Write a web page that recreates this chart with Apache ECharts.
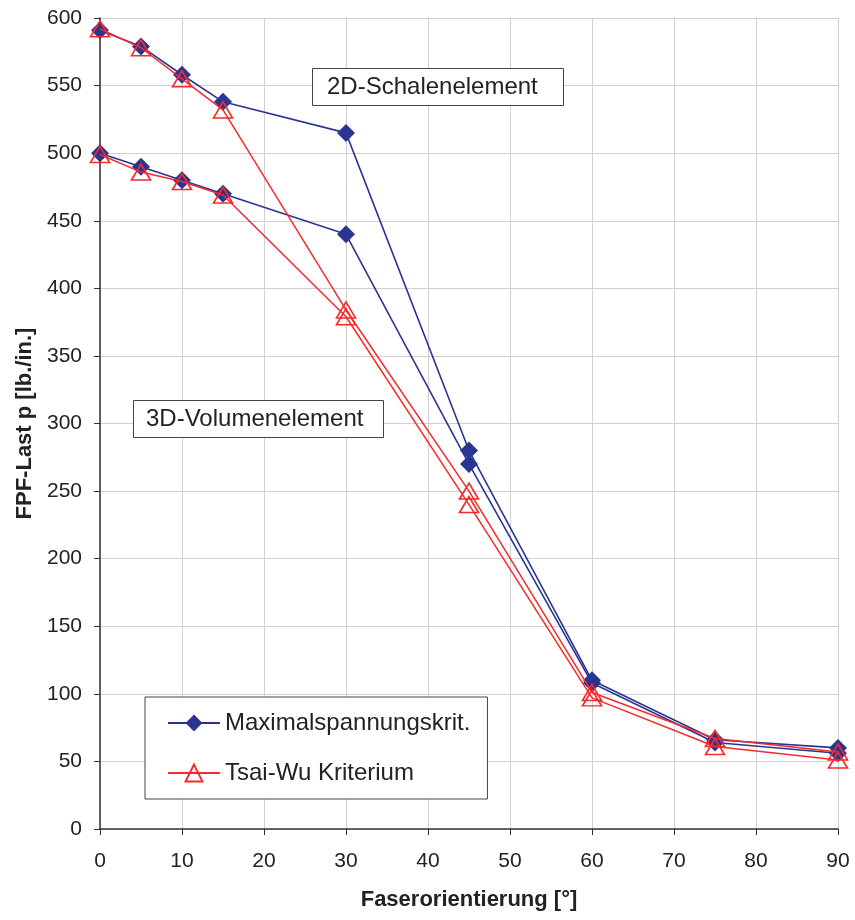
<!DOCTYPE html>
<html><head><meta charset="utf-8">
<script src="https://cdn.jsdelivr.net/npm/echarts@6/dist/echarts.min.js"></script>
<style>html,body{margin:0;padding:0;background:#fff}#c{width:855px;height:920px}</style>
</head><body><div id="c"></div>
<script>
const angles = [0, 5, 10, 15, 30, 45, 60, 75, 90];
const max2D = [591, 579, 558, 538, 515, 280, 110, 66, 60];
const tsai2D = [592, 578, 555, 532, 384, 250, 101, 67, 57];
const max3D = [500, 490, 480, 470, 440, 270, 108, 64, 56];
const tsai3D = [499, 486, 479, 469, 379, 240, 97, 61, 51];
const xTicks = [0, 10, 20, 30, 40, 50, 60, 70, 80, 90];
const nameMax = 'Maximalspannungskrit.';
const nameTsai = 'Tsai-Wu Kriterium';
const label2D = '2D-Schalenelement';
const label3D = '3D-Volumenelement';
const blue = '#2a3592';
const red = '#f52a2a';
const font = 'Liberation Sans, Arial, sans-serif';

const pairs = v => angles.map((a, i) => [a, v[i]]);
const maxSeries = d => ({
  name: nameMax, type: 'line', data: pairs(d), symbol: 'diamond', symbolSize: 18,
  lineStyle: {color: blue, width: 1.6}, itemStyle: {color: blue}, z: 2
});
const tsaiSeries = d => ({
  name: nameTsai, type: 'line', data: pairs(d), symbol: 'triangle', symbolSize: [19, 16],
  lineStyle: {color: red, width: 1.5}, itemStyle: {color: 'rgba(255,255,255,0)', borderColor: red, borderWidth: 1.6}, z: 3
});
const boxTitle = (text, left, top, pad) => ({
  text: text, left: left, top: top, padding: pad,
  borderColor: '#444', borderWidth: 1, backgroundColor: '#fff',
  textStyle: {fontSize: 24, fontWeight: 'normal', color: '#222', fontFamily: font, lineHeight: 24}
});

const chart = echarts.init(document.getElementById('c'));
chart.setOption({
  animation: false,
  textStyle: {fontFamily: font},
  grid: {left: 100, right: 17, top: 18, bottom: 91},
  title: [
    boxTitle(label2D, 312, 68, [7, 26, 7, 15]),
    boxTitle(label3D, 133, 400, [7, 20, 7, 13])
  ],
  xAxis: {
    type: 'value', min: 0, max: 90, interval: 10,
    name: 'Faserorientierung [°]', nameLocation: 'middle', nameGap: 60,
    nameTextStyle: {fontSize: 22, fontWeight: 'bold', color: '#222', fontFamily: font},
    axisLine: {lineStyle: {color: '#333', width: 1.5}},
    axisTick: {show: true, length: 6, lineStyle: {color: '#333'}},
    axisLabel: {fontSize: 21, color: '#222', margin: 22, formatter: v => xTicks.includes(v) ? String(v) : ''},
    splitLine: {show: true, lineStyle: {color: '#d0d0d0', width: 1}}
  },
  yAxis: {
    type: 'value', min: 0, max: 600, interval: 50,
    name: 'FPF-Last p [lb./in.]', nameLocation: 'middle', nameGap: 64, nameRotate: 90,
    nameTextStyle: {fontSize: 22, fontWeight: 'bold', color: '#222', fontFamily: font, padding: [0, 0, 0, 0]},
    axisLine: {show: true, lineStyle: {color: '#333', width: 1.5}},
    axisTick: {show: true, length: 6, lineStyle: {color: '#333'}},
    axisLabel: {fontSize: 21, color: '#222', margin: 18},
    splitLine: {show: true, lineStyle: {color: '#d0d0d0', width: 1}}
  },
  legend: {
    orient: 'vertical', left: 145, top: 697,
    padding: [14, 17, 14, 22], itemGap: 26,
    borderColor: '#444', borderWidth: 1, backgroundColor: '#fff',
    itemWidth: 52, itemHeight: 21,
    textStyle: {fontSize: 24, color: '#222', fontFamily: font},
    data: [nameMax, nameTsai]
  },
  series: [maxSeries(max2D), maxSeries(max3D), tsaiSeries(tsai2D), tsaiSeries(tsai3D)]
});
</script></body></html>
